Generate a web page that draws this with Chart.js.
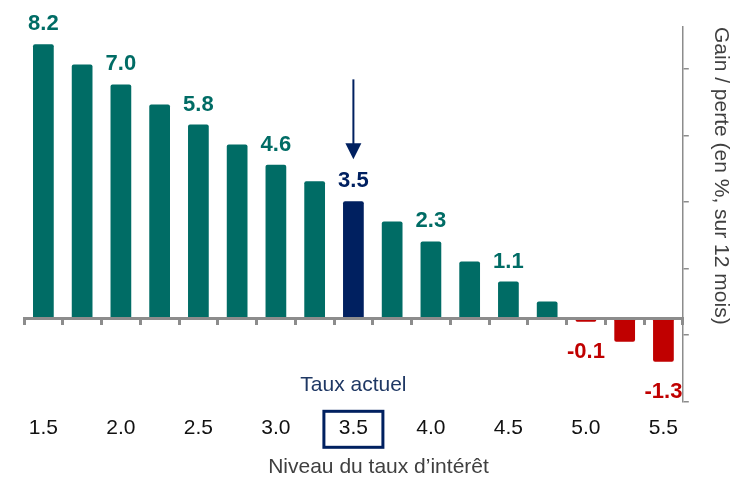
<!DOCTYPE html>
<html>
<head>
<meta charset="utf-8">
<script src="https://cdn.jsdelivr.net/npm/chart.js@4"></script>
<style>
  html, body { margin: 0; padding: 0; background: #fff; }
</style>
</head>
<body>
<canvas id="myChart" width="733" height="480"></canvas>
<script>
// Niveau du taux d'intérêt (catégories) et gain / perte sur 12 mois (%)
const rates = ["1.5", "1.75", "2.0", "2.25", "2.5", "2.75", "3.0", "3.25", "3.5",
               "3.75", "4.0", "4.25", "4.5", "4.75", "5.0", "5.25", "5.5"];
const gains = [8.2, 7.6, 7.0, 6.4, 5.8, 5.2, 4.6, 4.1, 3.5,
               2.9, 2.3, 1.7, 1.1, 0.5, -0.1, -0.7, -1.3];
const rateTicks = ["1.5", "", "2.0", "", "2.5", "", "3.0", "", "3.5",
                   "", "4.0", "", "4.5", "", "5.0", "", "5.5"];
const currentRate = "3.5";

const teal = "#006c65";
const navy = "#002060";
const red = "#c00000";
const gray = "#8c8c8c";
const font = "'Liberation Sans', Arial, sans-serif";

function barColor(i) {
  if (rates[i] === currentRate) return navy;
  return gains[i] < 0 ? red : teal;
}

// labels, arrow, "Taux actuel" and the box round the current rate
const annotate = {
  id: "annotate",
  afterDraw(chart) {
    const ctx = chart.ctx;
    const meta = chart.getDatasetMeta(0);
    const area = chart.chartArea;
    const x2 = chart.scales.x2;
    ctx.save();
    ctx.font = "bold 22px " + font;
    ctx.textAlign = "center";
    ctx.textBaseline = "alphabetic";
    meta.data.forEach((bar, i) => {
      if (i % 2) return;
      const v = gains[i];
      ctx.fillStyle = barColor(i);
      ctx.fillText(v.toFixed(1), bar.x, v >= 0 ? bar.y - 14 : bar.y + 36);
    });

    const ci = rates.indexOf(currentRate);
    const cur = meta.data[ci];
    // arrow
    const tip = cur.y - 42;
    ctx.strokeStyle = navy;
    ctx.fillStyle = navy;
    ctx.lineWidth = 2;
    ctx.beginPath();
    ctx.moveTo(cur.x, tip - 80);
    ctx.lineTo(cur.x, tip - 12);
    ctx.stroke();
    ctx.beginPath();
    ctx.moveTo(cur.x - 8, tip - 16);
    ctx.lineTo(cur.x + 8, tip - 16);
    ctx.lineTo(cur.x, tip);
    ctx.closePath();
    ctx.fill();

    // Taux actuel
    ctx.font = "21px " + font;
    ctx.fillStyle = "#1f3864";
    ctx.fillText("Taux actuel", cur.x, area.bottom - 11);

    // box round 3.5
    const bx = x2.getPixelForValue(ci);
    ctx.strokeStyle = navy;
    ctx.lineWidth = 3;
    ctx.strokeRect(bx - 29.5, x2.top + 9.5, 59, 36);
    ctx.restore();
  }
};

const ctx = document.getElementById("myChart").getContext("2d");
Chart.defaults.font.family = font;
const myChart = new Chart(ctx, {
  type: "bar",
  data: {
    labels: rates,
    datasets: [
      {
        label: "Gain / perte",
        data: gains,
        backgroundColor: gains.map((v, i) => barColor(i)),
        borderRadius: 2,
        borderSkipped: false,
        categoryPercentage: 1,
        barPercentage: 0.535
      }
    ]
  },
  options: {
    responsive: false,
    animation: false,
    layout: { padding: { left: 24, top: 27, right: 0, bottom: 0 } },
    plugins: {
      legend: { display: false },
      tooltip: { enabled: false },
      title: {
        display: true,
        position: "bottom",
        text: "Niveau du taux d’intérêt",
        color: "#404040",
        font: { size: 21, weight: "normal" },
        padding: { top: 10, bottom: 0 }
      }
    },
    scales: {
      x: {
        position: { y: 0 },
        offset: true,
        grid: { drawOnChartArea: false, drawTicks: true, tickLength: 5, lineWidth: 3, color: gray, offset: true, z: 1 },
        border: { display: true, width: 3, color: gray, z: 1 },
        ticks: { display: false }
      },
      x2: {
        type: "category",
        position: "bottom",
        labels: rateTicks,
        offset: true,
        grid: { display: false, drawTicks: false },
        border: { display: false },
        ticks: { autoSkip: false, maxRotation: 0, padding: 14, color: "#111", font: { size: 21 } },
        afterFit(scale) { scale.height = 43; }
      },
      y: {
        display: false,
        min: -2.5,
        max: 8.72
      },
      y2: {
        position: "right",
        min: 0,
        max: 5.627,
        grid: { drawOnChartArea: false, drawTicks: true, tickLength: 6, color: gray, lineWidth: 1.5 },
        border: { display: true, color: gray, width: 1.5 },
        ticks: { stepSize: 1, includeBounds: false, display: false },
        title: {
          display: true,
          text: "Gain / perte (en %, sur 12 mois)",
          align: "end",
          color: "#404040",
          font: { size: 21 },
          padding: { top: 0, bottom: 19 }
        }
      }
    }
  },
  plugins: [annotate]
});
</script>
</body>
</html>
